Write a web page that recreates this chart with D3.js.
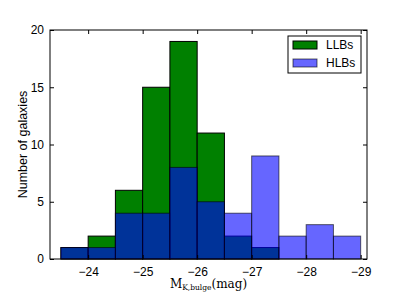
<!DOCTYPE html>
<html>
<head>
<meta charset="utf-8">
<script src="https://cdn.jsdelivr.net/npm/d3@7"></script>
<style>
  body { margin: 0; background: #fff; }
  text { font-family: "Liberation Sans", Arial, sans-serif; }
</style>
</head>
<body>
<div id="chart"></div>
<script>
// histogram bins (magnitude edges) and counts
var binEdges = [-23.5, -24, -24.5, -25, -25.5, -26, -26.5, -27, -27.5, -28, -28.5, -29];
var llbCounts = [1, 2, 6, 15, 19, 11, 2, 1, 0, 0, 0];
var hlbCounts = [1, 1, 4, 4, 8, 5, 4, 9, 2, 3, 2];
var xTicks = [-24, -25, -26, -27, -28, -29];
var yTicks = [0, 5, 10, 15, 20];

var svgWidth = 407;
var svgHeight = 305;

var margin = { top: 30, right: 40, bottom: 46, left: 50 };
var width = svgWidth - margin.left - margin.right;
var height = svgHeight - margin.top - margin.bottom;

var svg = d3.select("#chart")
  .append("svg")
  .attr("width", svgWidth)
  .attr("height", svgHeight);

var chartGroup = svg.append("g")
  .attr("transform", `translate(${margin.left}, ${margin.top})`);

var xScale = d3.scaleLinear()
  .domain([-23.3, -29.116])
  .range([0, width]);

var yScale = d3.scaleLinear()
  .domain([0, 20])
  .range([height, 0]);

function bins(counts) {
  return counts.map(function(c, i) {
    return { x0: binEdges[i], x1: binEdges[i + 1], n: c };
  }).filter(d => d.n > 0);
}

// LLBs (green)
chartGroup.selectAll("rect.llb")
  .data(bins(llbCounts))
  .enter()
  .append("rect")
  .attr("class", "llb")
  .attr("x", d => xScale(d.x0))
  .attr("width", d => xScale(d.x1) - xScale(d.x0))
  .attr("y", d => yScale(d.n))
  .attr("height", d => yScale(0) - yScale(d.n))
  .attr("fill", "#008000")
  .attr("stroke", "#000")
  .attr("stroke-width", 1);

// HLBs (blue, alpha)
chartGroup.selectAll("rect.hlb")
  .data(bins(hlbCounts))
  .enter()
  .append("rect")
  .attr("class", "hlb")
  .attr("x", d => xScale(d.x0))
  .attr("width", d => xScale(d.x1) - xScale(d.x0))
  .attr("y", d => yScale(d.n))
  .attr("height", d => yScale(0) - yScale(d.n))
  .attr("fill", "#0000ff")
  .attr("fill-opacity", 0.6)
  .attr("stroke", "#000")
  .attr("stroke-opacity", 0.6)
  .attr("stroke-width", 1);

// axes, ticks inward on all four sides
var bottomAxis = d3.axisBottom(xScale).tickValues(xTicks).tickSizeInner(-4).tickSizeOuter(0)
  .tickPadding(8).tickFormat(d => "\u2212" + Math.abs(d));
var topAxis = d3.axisTop(xScale).tickValues(xTicks).tickSizeInner(-4).tickSizeOuter(0).tickFormat("");
var leftAxis = d3.axisLeft(yScale).tickValues(yTicks).tickSizeInner(-4).tickSizeOuter(0).tickPadding(6);
var rightAxis = d3.axisRight(yScale).tickValues(yTicks).tickSizeInner(-4).tickSizeOuter(0).tickFormat("");

chartGroup.append("g").attr("transform", `translate(0, ${height})`).call(bottomAxis);
chartGroup.append("g").call(topAxis);
chartGroup.append("g").call(leftAxis);
chartGroup.append("g").attr("transform", `translate(${width}, 0)`).call(rightAxis);

chartGroup.selectAll(".domain").remove();
chartGroup.selectAll(".tick line").attr("stroke", "#000");
chartGroup.selectAll(".tick text")
  .attr("font-size", "12px")
  .attr("fill", "#000")
  .style("font-family", "'Liberation Sans', Arial, sans-serif");

chartGroup.append("rect")
  .attr("width", width)
  .attr("height", height)
  .attr("fill", "none")
  .attr("stroke", "#000")
  .attr("stroke-width", 1);

// legend
var legend = chartGroup.append("g")
  .attr("transform", `translate(${width - 79}, 6)`);

legend.append("rect")
  .attr("width", 73)
  .attr("height", 37)
  .attr("fill", "#fff")
  .attr("stroke", "#000")
  .attr("stroke-width", 1);

var legendItems = [
  { label: "LLBs", fill: "#008000", op: 1 },
  { label: "HLBs", fill: "#0000ff", op: 0.6 }
];

legendItems.forEach(function(item, i) {
  legend.append("rect")
    .attr("x", 5)
    .attr("y", 5 + i * 18)
    .attr("width", 24)
    .attr("height", 8)
    .attr("fill", item.fill)
    .attr("fill-opacity", item.op)
    .attr("stroke", "#000")
    .attr("stroke-opacity", item.op);
  legend.append("text")
    .attr("x", 38)
    .attr("y", 9 + i * 18)
    .attr("dy", "0.35em")
    .attr("font-size", "12px")
    .text(item.label);
});

// axes labels
chartGroup.append("text")
  .attr("transform", "rotate(-90)")
  .attr("x", 0 - (height / 2))
  .attr("y", 0 - margin.left + 27)
  .attr("text-anchor", "middle")
  .attr("font-size", "12.5px")
  .text("Number of galaxies");

var xLabel = chartGroup.append("text")
  .attr("x", width / 2)
  .attr("y", height + 29)
  .attr("text-anchor", "middle")
  .attr("font-size", "12px")
  .style("font-family", "'DejaVu Serif', 'Liberation Serif', serif");
xLabel.append("tspan").text("M");
xLabel.append("tspan").attr("font-size", "7.5px").attr("dy", "2").text("K,bulge");
xLabel.append("tspan").attr("dy", "-2").text("(mag)");
</script>
</body>
</html>
